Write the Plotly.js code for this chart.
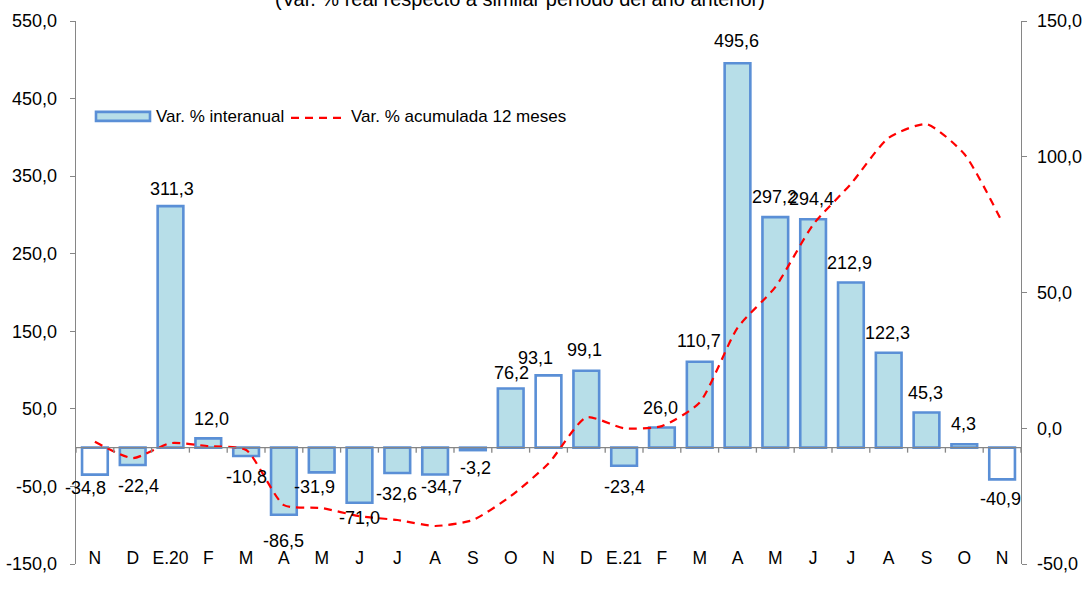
<!DOCTYPE html>
<html>
<head>
<meta charset="utf-8">
<script src="https://cdn.plot.ly/plotly-3.0.1.min.js"></script>
<style>html,body{margin:0;padding:0;background:#fff;}#chart{width:1083px;height:594px;}</style>
</head>
<body>
<div id="chart"></div>
<script>
// ---- data ----
const categories = ['N','D','E.20','F','M','A','M','J','J','A','S','O','N','D','E.21','F','M','A','M','J','J','A','S','O','N'];
const varInteranual = [-34.8,-22.4,311.3,12.0,-10.8,-86.5,-31.9,-71.0,-32.6,-34.7,-3.2,76.2,93.1,99.1,-23.4,26.0,110.7,495.6,297.2,294.4,212.9,122.3,45.3,4.3,-40.9];
const varAcumulada = [-5.0,-11.0,-5.5,-6.6,-8.0,-28.3,-29.4,-32.4,-33.8,-36.0,-33.8,-25.0,-13.0,4.0,0.0,0.8,9.5,37.0,52.0,75.0,90.0,107.0,112.0,101.0,76.0];
const seriesNames = ['Var. % interanual', 'Var. % acumulada 12 meses'];
const titleText = '(Var. % real respecto a similar período del año anterior)';
const leftTicks = [-150,-50,50,150,250,350,450,550];
const rightTicks = [-50,0,50,100,150];

// ---- style (label nudges in px) ----
const labelDx = [-9,6,1.5,3,0,0,-7,0,-1,6,3,1,-13,-2,0,-1,-1,-1,-1,-1.5,-1.5,-1.5,-1.5,-1,-1.5];
const labelDy = [-7,1,3,1,1,6,-5,-5,1,-8,-2,4,3,-1,1,1,-1,-2,0,0,1,0,0,0,0];

const fmt = v => v.toFixed(1).replace('.', ',');
const xIdx = categories.map((_, i) => i);
const FONT = 'Liberation Sans, Arial, sans-serif';
const AXC = '#868686';
const BAR_FILL = '#b7dee8', BAR_LINE = '#5a8fd6';
const W = 1083, H = 594, M = {l: 76, r: 62, t: 21, b: 29.5};
const PW = W - M.l - M.r, PH = H - M.t - M.b;
const px = x => (x - M.l) / PW, py = y => (H - M.b - y) / PH;

const bars = {
  type: 'bar', name: seriesNames[0], x: xIdx, y: varInteranual,
  width: 0.68,
  marker: {
    color: categories.map(c => c === 'N' ? '#ffffff' : BAR_FILL),
    line: {color: BAR_LINE, width: 2.6}
  },
  hoverinfo: 'skip', showlegend: false
};
const line = {
  type: 'scatter', mode: 'lines', name: seriesNames[1],
  x: xIdx, y: varAcumulada, yaxis: 'y2',
  line: {color: '#ff0000', width: 2.2, dash: '8px,6px', shape: 'spline', smoothing: 0.6},
  hoverinfo: 'skip', showlegend: false
};

const annotations = varInteranual.map((v, i) => ({
  x: i, y: v, xref: 'x', yref: 'y', text: fmt(v), showarrow: false,
  xanchor: 'center', yanchor: 'middle',
  xshift: labelDx[i], yshift: (v >= 0 ? 20 : -20) - labelDy[i],
  font: {family: FONT, size: 18, color: '#000'}
}));
annotations.push({
  text: titleText, xref: 'paper', yref: 'paper', x: px(520), y: py(-1),
  xanchor: 'center', yanchor: 'middle', showarrow: false,
  font: {family: FONT, size: 20, color: '#000'}
});
// legend texts
annotations.push({
  text: seriesNames[0], xref: 'paper', yref: 'paper', x: px(154), y: py(117),
  xanchor: 'left', yanchor: 'middle', showarrow: false,
  font: {family: FONT, size: 17, color: '#000'}
});
annotations.push({
  text: seriesNames[1], xref: 'paper', yref: 'paper', x: px(349), y: py(117),
  xanchor: 'left', yanchor: 'middle', showarrow: false,
  font: {family: FONT, size: 17, color: '#000'}
});

const shapes = [{
  type: 'line', xref: 'paper', yref: 'y', x0: 0, x1: 1, y0: 0, y1: 0,
  line: {color: AXC, width: 1.3}
}];
for (let k = 0; k <= categories.length; k++) {
  shapes.push({
    type: 'line', xref: 'x', yref: 'y', ysizemode: 'pixel', yanchor: 0,
    x0: k - 0.5, x1: k - 0.5, y0: 0, y1: -5,
    line: {color: AXC, width: 1.3}
  });
}
// legend symbols
shapes.push({
  type: 'rect', xref: 'paper', yref: 'paper',
  x0: px(96), x1: px(150), y0: py(121), y1: py(112),
  fillcolor: BAR_FILL, line: {color: BAR_LINE, width: 2.6}
});
shapes.push({
  type: 'line', xref: 'paper', yref: 'paper',
  x0: px(291), x1: px(344), y0: py(118), y1: py(118),
  line: {color: '#ff0000', width: 2.2, dash: '8px,6px'}
});

const layout = {
  width: W, height: H,
  margin: M,
  paper_bgcolor: '#fff', plot_bgcolor: '#fff',
  showlegend: false,
  bargap: 0.32,
  xaxis: {
    range: [-0.5, categories.length - 0.5],
    tickvals: xIdx, ticktext: categories,
    showline: false, showgrid: false, zeroline: false, ticks: '',
    anchor: 'free', position: 0.034,
    tickfont: {family: FONT, size: 17.5, color: '#000'}, fixedrange: true
  },
  yaxis: {
    range: [-150, 550], tickvals: leftTicks, ticktext: leftTicks.map(fmt),
    showline: true, linecolor: AXC, linewidth: 1.3, ticks: 'outside', ticklen: 5, tickcolor: AXC,
    showgrid: false, zeroline: false, ticklabelstandoff: 9,
    tickfont: {family: FONT, size: 18, color: '#000'}
  },
  yaxis2: {
    range: [-50, 150], tickvals: rightTicks, ticktext: rightTicks.map(fmt),
    overlaying: 'y', side: 'right',
    showline: true, linecolor: AXC, linewidth: 1.3, ticks: 'outside', ticklen: 5, tickcolor: AXC,
    showgrid: false, zeroline: false, ticklabelstandoff: 6,
    tickfont: {family: FONT, size: 18, color: '#000'}
  },
  annotations: annotations,
  shapes: shapes
};

Plotly.newPlot('chart', [bars, line], layout, {displayModeBar: false, staticPlot: true});
</script>
</body>
</html>
